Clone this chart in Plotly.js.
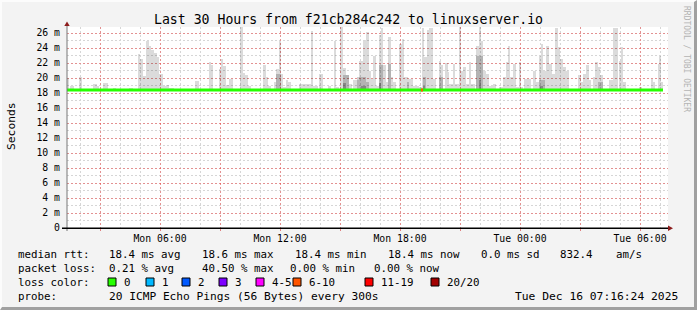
<!DOCTYPE html>
<html><head><meta charset="utf-8">
<script src="https://cdn.plot.ly/plotly-3.0.1.min.js"></script>
<style>
html,body{margin:0;padding:0;background:#f3f3f3;}
#wrap{position:relative;width:697px;height:310px;overflow:hidden;}
#chart{width:697px;height:310px;}
#frame{position:absolute;left:0;top:0;width:697px;height:310px;box-sizing:border-box;border-top:2px solid #fcfcfc;border-left:2px solid #fcfcfc;border-right:3px solid #a0a0a0;border-bottom:3px solid #a0a0a0;pointer-events:none;}
</style></head><body>
<div id="wrap"><div id="chart"></div><div id="frame"></div></div>
<script>
// ---------- data ----------
const windowStartMs = Date.UTC(2025, 11, 15, 1, 21);   // Mon 01:21
const windowMinutes = 1803;                              // ~30 h
const medianRtt = 18.4;                                  // ms
const medianEndMin = 1788;

// smoke (ping spread) segments, minutes after window start, top in ms
const smokeFrom = [0,9,36,78,90,108,138,186,213,219,228,237,246,252,261,270,276,288,297,306,384,426,432,456,462,468,477,486,519,528,534,543,552,588,597,603,621,627,636,642,648,657,663,696,732,738,756,783,801,807,819,828,837,846,858,870,876,888,894,897,906,912,918,927,936,942,948,957,963,972,978,996,1005,1011,1023,1038,1056,1065,1071,1080,1086,1098,1116,1122,1134,1143,1146,1158,1164,1176,1182,1188,1197,1206,1212,1227,1236,1242,1248,1257,1266,1278,1296,1308,1317,1323,1329,1338,1347,1356,1362,1371,1398,1407,1416,1422,1428,1437,1446,1455,1464,1473,1479,1488,1497,1533,1542,1548,1557,1566,1578,1584,1593,1599,1626,1638,1656,1662,1668,1716,1752,1758,1773,1776,1782];
const smokeTo   = [6,21,45,90,96,123,147,198,219,228,237,246,252,261,270,276,288,297,306,321,396,432,438,462,468,477,486,498,528,534,543,552,588,597,603,612,627,636,642,648,657,663,672,732,738,753,768,792,807,816,828,837,846,855,870,876,888,894,897,906,912,918,927,936,942,948,957,963,972,978,987,1005,1011,1023,1038,1056,1065,1071,1080,1086,1098,1107,1122,1128,1143,1146,1158,1164,1176,1182,1188,1197,1206,1212,1224,1236,1242,1248,1257,1266,1278,1287,1308,1317,1323,1329,1338,1347,1356,1362,1368,1392,1407,1416,1422,1428,1437,1446,1455,1464,1473,1479,1488,1497,1506,1542,1548,1557,1566,1572,1584,1593,1599,1608,1638,1653,1662,1668,1677,1725,1758,1764,1776,1782,1788];
const smokeMax  = [20.0,19.0,20.1,19.2,18.9,19.3,18.7,18.7,23.2,22.6,20.3,24.9,24.3,23.7,23.3,22.8,20.5,19.0,19.1,18.7,19.6,22.1,21.7,21.2,22.6,21.6,19.1,19.9,26.8,20.7,20.4,19.0,18.6,21.7,20.1,19.0,19.5,21.2,25.0,20.6,18.8,19.7,19.5,19.2,26.3,19.0,20.6,19.0,24.9,18.8,26.8,21.4,20.4,19.2,19.8,19.7,22.3,24.9,25.1,26.1,21.0,19.9,23.0,19.0,25.7,26.7,21.7,19.5,25.5,20.1,19.5,24.6,25.2,20.1,19.9,19.0,18.8,26.7,22.8,26.4,26.7,19.9,22.3,21.7,22.0,20.8,19.2,21.9,19.2,26.9,21.0,21.5,19.2,22.1,19.2,24.3,26.8,25.0,21.0,20.6,19.0,19.2,18.8,20.1,22.1,24.3,20.1,21.9,18.8,22.1,18.8,19.9,21.0,19.5,23.0,24.6,21.0,24.3,21.9,20.6,26.7,24.1,22.6,21.5,21.0,20.4,19.5,20.6,21.7,19.7,20.1,22.1,21.5,20.4,19.7,26.7,22.3,24.1,19.5,18.8,19.9,19.5,21.9,23.0,19.5];

// denser smoke (inner ping spread)
const midFrom = [627,828,870,897,936,963,1020,1068,1116,1227,1416,1593];
const midTo   = [642,846,897,906,948,972,1026,1077,1128,1248,1434,1608];
const midMax  = [20.5,20.4,20.2,19.5,21.8,21.9,19.5,20.1,20.1,23.0,19.8,19.5];
const darkFrom = [828,882,936,1068,1236,1419];
const darkTo   = [837,897,942,1074,1242,1428];
const darkMax  = [19.3,19.0,19.3,19.0,19.8,19.0];

// loss-coloured stretch of median line
const lossFrom = [1062];
const lossTo = [1068];
const lossColorIdx = [5];

// axes
const yTickVals = [0,2,4,6,8,10,12,14,16,18,20,22,24,26];
const yTickText = ["0","2 m","4 m","6 m","8 m","10 m","12 m","14 m","16 m","18 m","20 m","22 m","24 m","26 m"];
const xTickVals = ["2025-12-15 03:00","2025-12-15 06:00","2025-12-15 09:00","2025-12-15 12:00","2025-12-15 15:00","2025-12-15 18:00","2025-12-15 21:00","2025-12-16 00:00","2025-12-16 03:00","2025-12-16 06:00"];
const xTickText = ["","Mon 06:00","","Mon 12:00","","Mon 18:00","","Tue 00:00","","Tue 06:00"];

// legend
const lossLabels = ["0","1","2","3","4-5","6-10","11-19","20/20"];
const lossColors = ["#26ff00","#00b8ff","#0059ff","#7e00ff","#ff00ff","#ff5500","#ff0000","#a10000"];
const rttStats = ["18.4 ms avg","18.6 ms max","18.4 ms min","18.4 ms now","0.0 ms sd","832.4","am/s"];
const lossStats = ["0.21 % avg","40.50 % max","0.00 % min","0.00 % now"];
const probeText = "20 ICMP Echo Pings (56 Bytes) every 300s";
const stampText = "Tue Dec 16 07:16:24 2025";
const titleText = "Last 30 Hours from f21cb284c242 to linuxserver.io";

// ---------- helpers ----------
const T = m => windowStartMs + m * 60000;
const PL = 67, PR = 668, PT = 27, PB = 228;
const fx = px => (px - PL) / (PR - PL);
const fy = py => (PB - py) / (PB - PT);
const MONO = "DejaVu Sans Mono, monospace";

function barTrace(from, to, top, color) {
  return {
    type: "bar",
    x: from.map((f, i) => T((f + to[i]) / 2)),
    width: from.map((f, i) => (to[i] - f) * 60000),
    base: medianRtt,
    y: top.map(v => v - medianRtt),
    marker: {color: color, line: {width: 0}},
    hoverinfo: "skip", showlegend: false
  };
}

const traces = [
  barTrace(smokeFrom, smokeTo, smokeMax, "rgba(0,0,0,0.14)"),
  barTrace(midFrom, midTo, midMax, "rgba(0,0,0,0.18)"),
  barTrace(darkFrom, darkTo, darkMax, "rgba(0,0,0,0.25)"),
  {type: "scatter", mode: "lines", x: [T(0), T(medianEndMin)], y: [medianRtt, medianRtt],
   line: {color: lossColors[0], width: 3}, hoverinfo: "skip", showlegend: false}
];
lossFrom.forEach((f, i) => traces.push({
  type: "scatter", mode: "lines", x: [T(f), T(lossTo[i])], y: [medianRtt, medianRtt],
  line: {color: lossColors[lossColorIdx[i]], width: 3}, hoverinfo: "skip", showlegend: false
}));

const ann = [];
const shapes = [];
function txt(text, px, py, opts) {
  ann.push(Object.assign({text: text, xref: "paper", yref: "paper", x: fx(px), y: fy(py),
    xanchor: "left", yanchor: "middle", showarrow: false,
    font: {family: MONO, size: 10.8, color: "#000"}}, opts || {}));
}
// legend line 1
txt("median rtt:", 16, 254);
const rttX = [107, 200, 293, 386, 479, 558, 614];
rttStats.forEach((s, i) => txt(s, rttX[i], 254));
// line 2
txt("packet loss:", 16, 268);
const lossX = [107, 200, 288, 372];
lossStats.forEach((s, i) => txt(s, lossX[i], 268));
// line 3
txt("loss color:", 16, 282);
const boxX = [108, 146, 182, 219, 256, 293, 365, 431];
lossLabels.forEach((s, i) => {
  shapes.push({type: "rect", xref: "paper", yref: "paper",
    x0: fx(boxX[i]), x1: fx(boxX[i] + 8), y0: fy(286), y1: fy(278),
    fillcolor: lossColors[i], line: {color: "#000", width: 1}, layer: "above"});
  txt(s, boxX[i] + 14, 282);
});
// line 4
txt("probe:", 16, 296);
txt(probeText, 107, 296, {font: {family: MONO, size: 11.2, color: "#000"}});
txt(stampText, 513, 296, {font: {family: MONO, size: 11.3, color: "#000"}});
// y axis title
ann.push({text: "Seconds", xref: "paper", yref: "paper", x: fx(11), y: fy(126),
  xanchor: "center", yanchor: "middle", textangle: -90, showarrow: false,
  font: {family: MONO, size: 11.3, color: "#000"}});
// watermark
ann.push({text: "RRDTOOL / TOBI OETIKER", xref: "paper", yref: "paper", x: fx(687), y: fy(59),
  xanchor: "center", yanchor: "middle", textangle: 90, showarrow: false,
  font: {family: MONO, size: 8, color: "#b4b4b4"}});

// axis lines & arrows
shapes.push({type: "line", xref: "paper", yref: "paper", x0: fx(67), x1: fx(67), y0: fy(231), y1: fy(25),
  line: {color: "#777", width: 1}, layer: "above"});
shapes.push({type: "line", xref: "paper", yref: "paper", x0: fx(62), x1: fx(669), y0: fy(228.3), y1: fy(228.3),
  line: {color: "#000", width: 1.6}, layer: "above"});
shapes.push({type: "path", xref: "paper", yref: "paper",
  path: `M ${fx(64.3)},${fy(26)} L ${fx(69.7)},${fy(26)} L ${fx(67)},${fy(21.5)} Z`,
  fillcolor: "#8c1c1c", line: {width: 0}, layer: "above"});
shapes.push({type: "path", xref: "paper", yref: "paper",
  path: `M ${fx(668)},${fy(225.5)} L ${fx(668)},${fy(231)} L ${fx(673)},${fy(228.3)} Z`,
  fillcolor: "#8c1c1c", line: {width: 0}, layer: "above"});

const majorGrid = "rgba(255,0,0,0.32)";
const minorGrid = "#d6d6d6";
const gridDash = "2px,2px";
const layout = {
  width: 697, height: 310,
  margin: {l: PL, r: 697 - PR, t: PT, b: 310 - PB, pad: 0},
  paper_bgcolor: "#f3f3f3", plot_bgcolor: "#ffffff",
  barmode: "overlay", bargap: 0, hovermode: false, showlegend: false,
  title: {text: titleText, x: 0.5, xref: "container", xanchor: "center",
    y: 1 - 19 / 310, yref: "container", yanchor: "middle",
    font: {family: MONO, size: 13.2, color: "#000"}},
  xaxis: {type: "date", range: [T(0), T(windowMinutes)],
    tickmode: "array", tickvals: xTickVals, ticktext: xTickText,
    ticks: "outside", ticklen: 2, tickcolor: "#e08080",
    showgrid: true, gridcolor: majorGrid, griddash: gridDash, gridwidth: 1,
    minor: {tickmode: "linear", tick0: "2025-12-15 00:00", dtick: 3600000,
      showgrid: true, gridcolor: minorGrid, griddash: gridDash, gridwidth: 1, ticks: ""},
    showline: false, zeroline: false, layer: "below traces",
    tickfont: {family: MONO, size: 9.8, color: "#000"}, ticklabelstandoff: -1},
  yaxis: {range: [0, 26.8], tickmode: "array", tickvals: yTickVals, ticktext: yTickText,
    ticks: "", showgrid: true, gridcolor: majorGrid, griddash: gridDash, gridwidth: 1,
    minor: {tickmode: "linear", tick0: 0, dtick: 1, showgrid: true, gridcolor: minorGrid,
      griddash: gridDash, gridwidth: 1, ticks: ""},
    showline: false, zeroline: false,
    tickfont: {family: MONO, size: 9.8, color: "#000"}, ticklabelstandoff: 6},
  annotations: ann, shapes: shapes
};

Plotly.newPlot("chart", traces, layout, {staticPlot: true, displayModeBar: false});
</script>
</body></html>
